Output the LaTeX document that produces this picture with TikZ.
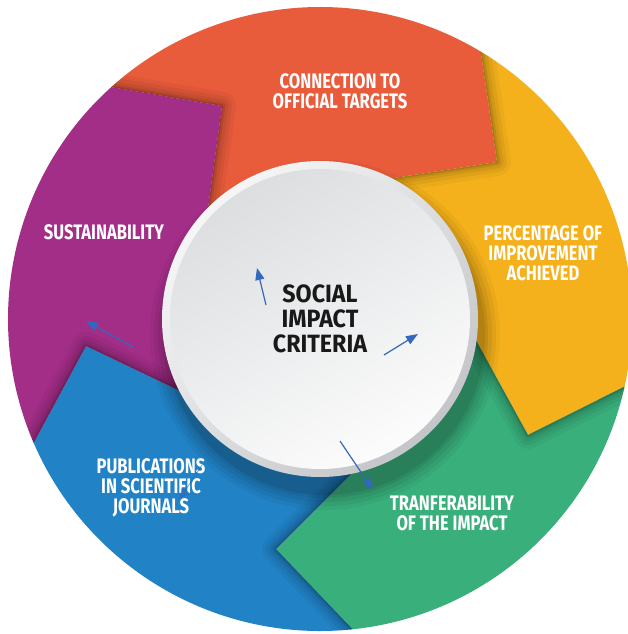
\documentclass[tikz,border=0pt]{standalone}
\usepackage{fontspec}
\newfontfamily\lbl{Fira Sans}[FakeStretch=0.79]
\newfontfamily\ctrlbl{Fira Sans}[FakeStretch=0.93]
\usetikzlibrary{arrows.meta,calc}
\definecolor{cOrange}{HTML}{E85B3B}
\definecolor{cYellow}{HTML}{F5B11C}
\definecolor{cGreen}{HTML}{39AF7C}
\definecolor{cBlue}{HTML}{2183C5}
\definecolor{cPurple}{HTML}{A32E88}
\definecolor{cArrow}{HTML}{3468BC}
\definecolor{rimLight}{HTML}{F6F6F7}
\definecolor{rimDark}{HTML}{C3C5C8}
\definecolor{discDark}{HTML}{DCDEE0}
\definecolor{discLight}{HTML}{FCFCFC}
\newcommand{\R}{312}
\newcommand{\segpath}[4]{(O#1) arc[start angle=#3,end angle=#4,radius=\R] -- (T#2) -- (E#2) -- (0,0) -- (E#1) -- (T#1) -- cycle}
\begin{document}
\begin{tikzpicture}[x=1pt,y=1pt,
  seglabel/.style={font=\lbl\bfseries\fontsize{21}{20}\selectfont, text=white, align=center, inner sep=0pt},
  centerlabel/.style={font=\ctrlbl\bfseries\fontsize{25}{25}\selectfont, text=black!90, align=center, inner sep=0pt},
  pointer/.style={cArrow, line width=1.2pt, -{Triangle[length=12pt,width=9pt]}},
  edgeshadow/.style={black, line join=round}
]
\fill[white] (-320,-315) rectangle (308,319);
\useasboundingbox (-320,-315) rectangle (308,319);
\clip (-320,-315) rectangle (308,319);

% boundary points of the five arrow-shaped segments
\coordinate (O1) at (59:\R);     \coordinate (T1) at (177,157);  \coordinate (I1) at (74,141);
\coordinate (O2) at (-12.5:\R);  \coordinate (T2) at (208,-116); \coordinate (I2) at (158,-25);
\coordinate (O3) at (-84:\R);    \coordinate (T3) at (-44,-230); \coordinate (I3) at (28,-158);
\coordinate (O4) at (-156.6:\R); \coordinate (T4) at (-234,-27); \coordinate (I4) at (-142,-71);
\coordinate (O5) at (-228:\R);   \coordinate (T5) at (-98,213);  \coordinate (I5) at (-112,111);
\foreach \k in {1,...,5} { \coordinate (E\k) at ($(T\k)!1.4!(I\k)$); }

% segments
\fill[cOrange] \segpath{5}{1}{132}{59};
\fill[cYellow] \segpath{1}{2}{59}{-12.5};
\fill[cGreen]  \segpath{2}{3}{-12.5}{-84};
\fill[cBlue]   \segpath{3}{4}{-84}{-156.6};
\fill[cPurple] \segpath{4}{5}{-156.6}{-228};

% edge shadows cast on the following segment
\foreach \a/\b/\sa/\sb in {5/1/132/59, 1/2/59/-12.5, 2/3/-12.5/-84, 3/4/-84/-156.6, 4/5/-156.6/-228} {
  \begin{scope}
    \clip \segpath{\a}{\b}{\sa}{\sb};
    \foreach \w/\o in {28/0.04,20/0.05,13/0.06,7/0.08,3/0.12}
      \draw[edgeshadow, opacity=\o, line width=\w pt] (O\a) -- (T\a) -- (E\a);
  \end{scope}
}

% soft shadow of the centre disc (falls mainly below it)
\foreach \r/\o in {175/0.04,171/0.05,167/0.06,163/0.07,160/0.08}
  \fill[black, opacity=\o] (5,-16) circle (\r);

% centre disc
\shade[top color=rimLight, bottom color=rimDark, shading angle=45] (0,0) circle (158);
\shade[top color=discDark, bottom color=discLight, shading angle=30] (0,0) circle (150);

% labels
\node[seglabel] (conn) at (20,228) {CONNECTION TO\\OFFICIAL TARGETS};
\node[seglabel] (sust) at (-216,87) {SUSTAINABILITY};
\node[seglabel] (perc) at (223,66) {PERCENTAGE OF\\IMPROVEMENT\\ACHIEVED};
\node[seglabel] (publ) at (-169,-169) {PUBLICATIONS\\IN SCIENTIFIC\\JOURNALS};
\node[seglabel] (tran) at (132,-194) {TRANFERABILITY\\OF THE IMPACT};
\node[centerlabel] (crit) at (0,0) {SOCIAL\\IMPACT\\CRITERIA};

% small blue arrows
\coordinate (a1s) at (-54,14);   \coordinate (a1e) at (-63,51);
\coordinate (a2s) at (64,-36);   \coordinate (a2e) at (98,-15);
\coordinate (a3s) at (20,-122);  \coordinate (a3e) at (53,-171);
\coordinate (a4s) at (-187,-28); \coordinate (a4e) at (-234,-2);
\coordinate (a5s) at (-118,-146);\coordinate (a5e) at (-141,-181);
\draw[pointer] (a1s) -- (a1e);
\draw[pointer] (a2s) -- (a2e);
\draw[pointer] (a3s) -- (a3e);
\draw[pointer] (a4s) -- (a4e);
\draw[pointer, opacity=0.6, line width=0.8pt] (a5s) -- (a5e);
\end{tikzpicture}
\end{document}
